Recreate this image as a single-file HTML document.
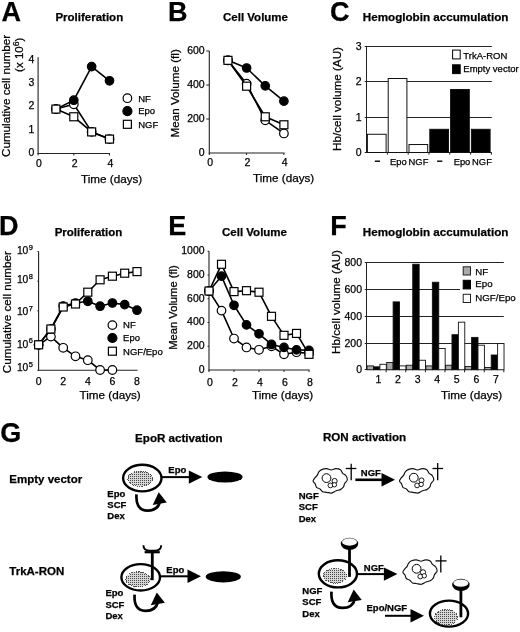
<!DOCTYPE html>
<html><head><meta charset="utf-8"><title>Figure</title>
<style>
html,body{margin:0;padding:0;background:#fff;}
body{width:520px;height:632px;overflow:hidden;font-family:"Liberation Sans",sans-serif;}
svg{display:block;filter:grayscale(1);}
svg text{font-family:"Liberation Sans",sans-serif;fill:#000;stroke:#000;stroke-width:0.25px;}
</style></head><body>
<svg width="520" height="632" viewBox="0 0 520 632">
<defs>
<pattern id="stip" width="2" height="2" patternUnits="userSpaceOnUse"><rect width="2" height="2" fill="#d6d6d6"/><rect x="0" y="0" width="1" height="1" fill="#4a4a4a"/></pattern>
</defs>
<rect width="520" height="632" fill="#fff"/>
<text x="1.50" y="20.70" font-size="27" font-weight="bold" text-anchor="start" >A</text>
<text x="168.00" y="20.90" font-size="27" font-weight="bold" text-anchor="start" >B</text>
<text x="330.00" y="20.90" font-size="27" font-weight="bold" text-anchor="start" >C</text>
<text x="-1.00" y="234.60" font-size="27" font-weight="bold" text-anchor="start" >D</text>
<text x="168.30" y="235.00" font-size="27" font-weight="bold" text-anchor="start" >E</text>
<text x="330.30" y="235.00" font-size="27" font-weight="bold" text-anchor="start" >F</text>
<text x="0.30" y="441.80" font-size="27" font-weight="bold" text-anchor="start" >G</text>
<text x="89.30" y="21.20" font-size="11.5" font-weight="bold" text-anchor="middle" >Proliferation</text>
<text x="255.50" y="21.20" font-size="11.5" font-weight="bold" text-anchor="middle" >Cell Volume</text>
<text x="435.60" y="21.20" font-size="11.65" font-weight="bold" text-anchor="middle" >Hemoglobin accumulation</text>
<text x="88.50" y="235.80" font-size="11.5" font-weight="bold" text-anchor="middle" >Proliferation</text>
<text x="254.50" y="235.60" font-size="11.5" font-weight="bold" text-anchor="middle" >Cell Volume</text>
<text x="435.60" y="235.60" font-size="11.65" font-weight="bold" text-anchor="middle" >Hemoglobin accumulation</text>
<line x1="38.10" y1="57.20" x2="38.10" y2="154.00" stroke="#222" stroke-width="1.1" />
<line x1="37.60" y1="153.50" x2="110.00" y2="153.50" stroke="#222" stroke-width="1.1" />
<text x="34.30" y="155.80" font-size="10.5" text-anchor="end" >0</text>
<text x="34.30" y="132.50" font-size="10.5" text-anchor="end" >1</text>
<text x="34.30" y="109.20" font-size="10.5" text-anchor="end" >2</text>
<text x="34.30" y="85.90" font-size="10.5" text-anchor="end" >3</text>
<text x="34.30" y="62.60" font-size="10.5" text-anchor="end" >4</text>
<line x1="38.10" y1="153.50" x2="38.10" y2="155.50" stroke="#222" stroke-width="1" />
<text x="38.90" y="166.80" font-size="10.5" text-anchor="middle" >0</text>
<line x1="73.80" y1="153.50" x2="73.80" y2="155.50" stroke="#222" stroke-width="1" />
<text x="74.60" y="166.80" font-size="10.5" text-anchor="middle" >2</text>
<line x1="109.50" y1="153.50" x2="109.50" y2="155.50" stroke="#222" stroke-width="1" />
<text x="110.30" y="166.80" font-size="10.5" text-anchor="middle" >4</text>
<text x="81.00" y="182.60" font-size="11.7" text-anchor="start" >Time (days)</text>
<text transform="translate(9.90,96.00) rotate(-90)" font-size="11.7" text-anchor="middle">Cumulative cell number</text>
<text transform="translate(23,54.8) rotate(-90)" font-size="11.5" text-anchor="middle">(x 10<tspan dy="-4" font-size="8.6">6</tspan><tspan dy="4">)</tspan></text>
<polyline points="55.95,109.10 73.80,104.30 91.65,131.90 109.50,139.10" fill="none" stroke="#000" stroke-width="1.6" stroke-linejoin="round"/>
<circle cx="55.95" cy="109.10" r="4.3" fill="#fff" stroke="#000" stroke-width="1.2"/>
<circle cx="73.80" cy="104.30" r="4.3" fill="#fff" stroke="#000" stroke-width="1.2"/>
<circle cx="91.65" cy="131.90" r="4.3" fill="#fff" stroke="#000" stroke-width="1.2"/>
<circle cx="109.50" cy="139.10" r="4.3" fill="#fff" stroke="#000" stroke-width="1.2"/>
<polyline points="55.95,109.10 73.80,100.22 91.65,66.62 109.50,80.78" fill="none" stroke="#000" stroke-width="1.6" stroke-linejoin="round"/>
<circle cx="55.95" cy="109.10" r="4.25" fill="#000" stroke="#000" stroke-width="1.2"/>
<circle cx="73.80" cy="100.22" r="4.25" fill="#000" stroke="#000" stroke-width="1.2"/>
<circle cx="91.65" cy="66.62" r="4.25" fill="#000" stroke="#000" stroke-width="1.2"/>
<circle cx="109.50" cy="80.78" r="4.25" fill="#000" stroke="#000" stroke-width="1.2"/>
<polyline points="55.95,109.10 73.80,116.78 91.65,131.90 109.50,139.10" fill="none" stroke="#000" stroke-width="1.6" stroke-linejoin="round"/>
<rect x="51.95" y="105.10" width="8" height="8" fill="#fff" stroke="#000" stroke-width="1.2"/>
<rect x="69.80" y="112.78" width="8" height="8" fill="#fff" stroke="#000" stroke-width="1.2"/>
<rect x="87.65" y="127.90" width="8" height="8" fill="#fff" stroke="#000" stroke-width="1.2"/>
<rect x="105.50" y="135.10" width="8" height="8" fill="#fff" stroke="#000" stroke-width="1.2"/>
<circle cx="127.40" cy="98.20" r="4.3" fill="#fff" stroke="#000" stroke-width="1.2"/>
<circle cx="127.40" cy="111.20" r="4.5" fill="#000" stroke="#000" stroke-width="1.2"/>
<rect x="123.40" y="120.30" width="8" height="8" fill="#fff" stroke="#000" stroke-width="1.2"/>
<text x="138.20" y="101.50" font-size="9.5" text-anchor="start" >NF</text>
<text x="138.20" y="114.40" font-size="9.5" text-anchor="start" >Epo</text>
<text x="138.20" y="127.60" font-size="9.5" text-anchor="start" >NGF</text>
<line x1="209.30" y1="51.00" x2="209.30" y2="153.50" stroke="#222" stroke-width="1.1" />
<line x1="208.80" y1="153.00" x2="284.50" y2="153.00" stroke="#222" stroke-width="1.1" />
<text x="204.70" y="156.40" font-size="10.5" text-anchor="end" >0</text>
<line x1="206.30" y1="119.00" x2="209.30" y2="119.00" stroke="#222" stroke-width="1" />
<text x="204.70" y="122.40" font-size="10.5" text-anchor="end" >200</text>
<line x1="206.30" y1="85.00" x2="209.30" y2="85.00" stroke="#222" stroke-width="1" />
<text x="204.70" y="88.40" font-size="10.5" text-anchor="end" >400</text>
<line x1="206.30" y1="51.00" x2="209.30" y2="51.00" stroke="#222" stroke-width="1" />
<text x="204.70" y="54.40" font-size="10.5" text-anchor="end" >600</text>
<line x1="209.30" y1="153.00" x2="209.30" y2="155.00" stroke="#222" stroke-width="1" />
<text x="210.10" y="166.30" font-size="10.5" text-anchor="middle" >0</text>
<line x1="246.60" y1="153.00" x2="246.60" y2="155.00" stroke="#222" stroke-width="1" />
<text x="247.40" y="166.30" font-size="10.5" text-anchor="middle" >2</text>
<line x1="283.90" y1="153.00" x2="283.90" y2="155.00" stroke="#222" stroke-width="1" />
<text x="284.70" y="166.30" font-size="10.5" text-anchor="middle" >4</text>
<text x="253.00" y="182.30" font-size="11.7" text-anchor="start" >Time (days)</text>
<text transform="translate(178.70,93.40) rotate(-90)" font-size="11.7" text-anchor="middle">Mean Volume (fl)</text>
<polyline points="227.95,60.35 246.60,68.00 265.25,85.85 283.90,101.15" fill="none" stroke="#000" stroke-width="1.6" stroke-linejoin="round"/>
<circle cx="227.95" cy="60.35" r="4.25" fill="#000" stroke="#000" stroke-width="1.2"/>
<circle cx="246.60" cy="68.00" r="4.25" fill="#000" stroke="#000" stroke-width="1.2"/>
<circle cx="265.25" cy="85.85" r="4.25" fill="#000" stroke="#000" stroke-width="1.2"/>
<circle cx="283.90" cy="101.15" r="4.25" fill="#000" stroke="#000" stroke-width="1.2"/>
<polyline points="227.95,60.35 246.60,83.64 265.25,120.36 283.90,133.45" fill="none" stroke="#000" stroke-width="1.6" stroke-linejoin="round"/>
<circle cx="227.95" cy="60.35" r="4.3" fill="#fff" stroke="#000" stroke-width="1.2"/>
<circle cx="246.60" cy="83.64" r="4.3" fill="#fff" stroke="#000" stroke-width="1.2"/>
<circle cx="265.25" cy="120.36" r="4.3" fill="#fff" stroke="#000" stroke-width="1.2"/>
<circle cx="283.90" cy="133.45" r="4.3" fill="#fff" stroke="#000" stroke-width="1.2"/>
<polyline points="227.95,60.35 246.60,86.19 265.25,116.79 283.90,124.78" fill="none" stroke="#000" stroke-width="1.6" stroke-linejoin="round"/>
<rect x="223.95" y="56.35" width="8" height="8" fill="#fff" stroke="#000" stroke-width="1.2"/>
<rect x="242.60" y="82.19" width="8" height="8" fill="#fff" stroke="#000" stroke-width="1.2"/>
<rect x="261.25" y="112.79" width="8" height="8" fill="#fff" stroke="#000" stroke-width="1.2"/>
<rect x="279.90" y="120.78" width="8" height="8" fill="#fff" stroke="#000" stroke-width="1.2"/>
<line x1="366.50" y1="46.00" x2="366.50" y2="153.00" stroke="#222" stroke-width="1" />
<line x1="364.70" y1="152.50" x2="491.80" y2="152.50" stroke="#222" stroke-width="1" />
<text x="361.60" y="156.20" font-size="10.5" text-anchor="end" >0</text>
<line x1="364.70" y1="117.50" x2="491.80" y2="117.50" stroke="#222" stroke-width="1" />
<text x="361.60" y="121.20" font-size="10.5" text-anchor="end" >1</text>
<line x1="364.70" y1="81.50" x2="491.80" y2="81.50" stroke="#222" stroke-width="1" />
<text x="361.60" y="85.20" font-size="10.5" text-anchor="end" >2</text>
<line x1="364.70" y1="46.50" x2="491.80" y2="46.50" stroke="#222" stroke-width="1" />
<text x="361.60" y="50.20" font-size="10.5" text-anchor="end" >3</text>
<rect x="367.40" y="134.27" width="18.7" height="18.23" fill="#fff" stroke="#111" stroke-width="1"/>
<rect x="388.20" y="78.51" width="18.7" height="73.99" fill="#fff" stroke="#111" stroke-width="1"/>
<rect x="409.00" y="144.53" width="18.7" height="7.96" fill="#fff" stroke="#111" stroke-width="1"/>
<rect x="429.80" y="129.31" width="18.7" height="23.19" fill="#000" stroke="#111" stroke-width="1"/>
<rect x="450.60" y="89.49" width="18.7" height="63.01" fill="#000" stroke="#111" stroke-width="1"/>
<rect x="471.40" y="129.31" width="18.7" height="23.19" fill="#000" stroke="#111" stroke-width="1"/>
<line x1="387.40" y1="152.50" x2="387.40" y2="154.70" stroke="#222" stroke-width="1" />
<line x1="408.20" y1="152.50" x2="408.20" y2="154.70" stroke="#222" stroke-width="1" />
<line x1="429.00" y1="152.50" x2="429.00" y2="154.70" stroke="#222" stroke-width="1" />
<line x1="449.80" y1="152.50" x2="449.80" y2="154.70" stroke="#222" stroke-width="1" />
<line x1="470.60" y1="152.50" x2="470.60" y2="154.70" stroke="#222" stroke-width="1" />
<line x1="491.40" y1="152.50" x2="491.40" y2="154.70" stroke="#222" stroke-width="1" />
<line x1="374.80" y1="161.20" x2="380.00" y2="161.20" stroke="#000" stroke-width="1.4" />
<text x="398.30" y="164.60" font-size="9.4" text-anchor="middle" >Epo</text>
<text x="418.50" y="164.60" font-size="9.4" text-anchor="middle" >NGF</text>
<line x1="437.10" y1="161.20" x2="442.30" y2="161.20" stroke="#000" stroke-width="1.4" />
<text x="462.00" y="164.60" font-size="9.4" text-anchor="middle" >Epo</text>
<text x="482.00" y="164.60" font-size="9.4" text-anchor="middle" >NGF</text>
<text transform="translate(340.60,99.00) rotate(-90)" font-size="11.7" text-anchor="middle">Hb/cell volume (AU)</text>
<rect x="452.6" y="50.1" width="7.6" height="8.8" fill="#fff" stroke="#000" stroke-width="1"/>
<rect x="452.6" y="64.8" width="7.6" height="8.8" fill="#000" stroke="#000" stroke-width="1"/>
<text x="463.30" y="58.50" font-size="9.5" text-anchor="start" >TrkA-RON</text>
<text x="463.30" y="71.60" font-size="9.5" text-anchor="start" >Empty vector</text>
<line x1="38.60" y1="251.40" x2="38.60" y2="370.80" stroke="#222" stroke-width="1.1" />
<line x1="38.10" y1="370.30" x2="137.50" y2="370.30" stroke="#222" stroke-width="1.1" />
<line x1="37.40" y1="251.50" x2="38.60" y2="251.50" stroke="#222" stroke-width="1" />
<text x="16.9" y="254.40" font-size="10.3">10<tspan dy="-4.3" dx="0.3" font-size="7.5">9</tspan></text>
<line x1="37.40" y1="281.20" x2="38.60" y2="281.20" stroke="#222" stroke-width="1" />
<text x="16.9" y="283.30" font-size="10.3">10<tspan dy="-4.3" dx="0.3" font-size="7.5">8</tspan></text>
<line x1="37.40" y1="310.90" x2="38.60" y2="310.90" stroke="#222" stroke-width="1" />
<text x="16.9" y="315.20" font-size="10.3">10<tspan dy="-4.3" dx="0.3" font-size="7.5">7</tspan></text>
<line x1="37.40" y1="340.60" x2="38.60" y2="340.60" stroke="#222" stroke-width="1" />
<text x="16.9" y="347.70" font-size="10.3">10<tspan dy="-4.3" dx="0.3" font-size="7.5">6</tspan></text>
<line x1="37.40" y1="370.30" x2="38.60" y2="370.30" stroke="#222" stroke-width="1" />
<text x="16.9" y="371.30" font-size="10.3">10<tspan dy="-4.3" dx="0.3" font-size="7.5">5</tspan></text>
<text x="38.60" y="385.40" font-size="10.5" text-anchor="middle" >0</text>
<text x="63.20" y="385.40" font-size="10.5" text-anchor="middle" >2</text>
<text x="87.80" y="385.40" font-size="10.5" text-anchor="middle" >4</text>
<text x="112.40" y="385.40" font-size="10.5" text-anchor="middle" >6</text>
<text x="137.00" y="385.40" font-size="10.5" text-anchor="middle" >8</text>
<text x="79.50" y="398.50" font-size="11.7" text-anchor="start" >Time (days)</text>
<text transform="translate(10.60,312.20) rotate(-90)" font-size="11.7" text-anchor="middle">Cumulative cell number</text>
<polyline points="38.60,344.80 50.90,336.60 63.20,347.80 75.50,356.30 87.80,360.20 100.10,370.00 112.40,370.00" fill="none" stroke="#000" stroke-width="1.6" stroke-linejoin="round"/>
<circle cx="38.60" cy="344.80" r="4.3" fill="#fff" stroke="#000" stroke-width="1.2"/>
<circle cx="50.90" cy="336.60" r="4.3" fill="#fff" stroke="#000" stroke-width="1.2"/>
<circle cx="63.20" cy="347.80" r="4.3" fill="#fff" stroke="#000" stroke-width="1.2"/>
<circle cx="75.50" cy="356.30" r="4.3" fill="#fff" stroke="#000" stroke-width="1.2"/>
<circle cx="87.80" cy="360.20" r="4.3" fill="#fff" stroke="#000" stroke-width="1.2"/>
<circle cx="100.10" cy="370.00" r="4.3" fill="#fff" stroke="#000" stroke-width="1.2"/>
<circle cx="112.40" cy="370.00" r="4.3" fill="#fff" stroke="#000" stroke-width="1.2"/>
<polyline points="38.60,344.80 50.90,329.00 63.20,306.00 75.50,303.00 87.80,301.30 100.10,306.20 112.40,303.00 124.70,304.60 137.00,310.20" fill="none" stroke="#000" stroke-width="1.6" stroke-linejoin="round"/>
<circle cx="38.60" cy="344.80" r="4.25" fill="#000" stroke="#000" stroke-width="1.2"/>
<circle cx="50.90" cy="329.00" r="4.25" fill="#000" stroke="#000" stroke-width="1.2"/>
<circle cx="63.20" cy="306.00" r="4.25" fill="#000" stroke="#000" stroke-width="1.2"/>
<circle cx="75.50" cy="303.00" r="4.25" fill="#000" stroke="#000" stroke-width="1.2"/>
<circle cx="87.80" cy="301.30" r="4.25" fill="#000" stroke="#000" stroke-width="1.2"/>
<circle cx="100.10" cy="306.20" r="4.25" fill="#000" stroke="#000" stroke-width="1.2"/>
<circle cx="112.40" cy="303.00" r="4.25" fill="#000" stroke="#000" stroke-width="1.2"/>
<circle cx="124.70" cy="304.60" r="4.25" fill="#000" stroke="#000" stroke-width="1.2"/>
<circle cx="137.00" cy="310.20" r="4.25" fill="#000" stroke="#000" stroke-width="1.2"/>
<polyline points="38.60,344.80 50.90,329.00 63.20,307.00 75.50,304.00 87.80,292.20 100.10,279.80 112.40,276.20 124.70,273.20 137.00,271.60" fill="none" stroke="#000" stroke-width="1.6" stroke-linejoin="round"/>
<rect x="34.60" y="340.80" width="8" height="8" fill="#fff" stroke="#000" stroke-width="1.2"/>
<rect x="46.90" y="325.00" width="8" height="8" fill="#fff" stroke="#000" stroke-width="1.2"/>
<rect x="59.20" y="303.00" width="8" height="8" fill="#fff" stroke="#000" stroke-width="1.2"/>
<rect x="71.50" y="300.00" width="8" height="8" fill="#fff" stroke="#000" stroke-width="1.2"/>
<rect x="83.80" y="288.20" width="8" height="8" fill="#fff" stroke="#000" stroke-width="1.2"/>
<rect x="96.10" y="275.80" width="8" height="8" fill="#fff" stroke="#000" stroke-width="1.2"/>
<rect x="108.40" y="272.20" width="8" height="8" fill="#fff" stroke="#000" stroke-width="1.2"/>
<rect x="120.70" y="269.20" width="8" height="8" fill="#fff" stroke="#000" stroke-width="1.2"/>
<rect x="133.00" y="267.60" width="8" height="8" fill="#fff" stroke="#000" stroke-width="1.2"/>
<circle cx="112.40" cy="325.10" r="4.3" fill="#fff" stroke="#000" stroke-width="1.2"/>
<circle cx="112.40" cy="338.00" r="4.5" fill="#000" stroke="#000" stroke-width="1.2"/>
<rect x="108.40" y="347.20" width="8" height="8" fill="#fff" stroke="#000" stroke-width="1.2"/>
<text x="123.10" y="328.40" font-size="9.5" text-anchor="start" >NF</text>
<text x="123.10" y="341.20" font-size="9.5" text-anchor="start" >Epo</text>
<text x="123.10" y="354.50" font-size="9.5" text-anchor="start" >NGF/Epo</text>
<line x1="209.00" y1="251.30" x2="209.00" y2="370.50" stroke="#222" stroke-width="1.1" />
<line x1="208.50" y1="370.00" x2="309.40" y2="370.00" stroke="#222" stroke-width="1.1" />
<text x="204.60" y="372.80" font-size="10.5" text-anchor="end" >0</text>
<line x1="207.50" y1="346.25" x2="209.00" y2="346.25" stroke="#222" stroke-width="1" />
<text x="204.60" y="349.05" font-size="10.5" text-anchor="end" >200</text>
<line x1="207.50" y1="322.50" x2="209.00" y2="322.50" stroke="#222" stroke-width="1" />
<text x="204.60" y="325.30" font-size="10.5" text-anchor="end" >400</text>
<line x1="207.50" y1="298.75" x2="209.00" y2="298.75" stroke="#222" stroke-width="1" />
<text x="204.60" y="301.55" font-size="10.5" text-anchor="end" >600</text>
<line x1="207.50" y1="275.00" x2="209.00" y2="275.00" stroke="#222" stroke-width="1" />
<text x="204.60" y="277.80" font-size="10.5" text-anchor="end" >800</text>
<line x1="207.50" y1="251.25" x2="209.00" y2="251.25" stroke="#222" stroke-width="1" />
<text x="204.60" y="254.05" font-size="10.5" text-anchor="end" >1000</text>
<line x1="209.00" y1="370.00" x2="209.00" y2="372.00" stroke="#222" stroke-width="1" />
<text x="209.80" y="386.00" font-size="10.5" text-anchor="middle" >0</text>
<line x1="234.00" y1="370.00" x2="234.00" y2="372.00" stroke="#222" stroke-width="1" />
<text x="234.80" y="386.00" font-size="10.5" text-anchor="middle" >2</text>
<line x1="259.00" y1="370.00" x2="259.00" y2="372.00" stroke="#222" stroke-width="1" />
<text x="259.80" y="386.00" font-size="10.5" text-anchor="middle" >4</text>
<line x1="284.00" y1="370.00" x2="284.00" y2="372.00" stroke="#222" stroke-width="1" />
<text x="284.80" y="386.00" font-size="10.5" text-anchor="middle" >6</text>
<line x1="309.00" y1="370.00" x2="309.00" y2="372.00" stroke="#222" stroke-width="1" />
<text x="309.80" y="386.00" font-size="10.5" text-anchor="middle" >8</text>
<text x="252.00" y="399.30" font-size="11.7" text-anchor="start" >Time (days)</text>
<text transform="translate(177.00,307.50) rotate(-90)" font-size="11.2" text-anchor="middle">Mean Volume (fl)</text>
<polyline points="209.00,291.03 221.50,310.62 234.00,338.53 246.50,347.44 259.00,349.81 271.50,346.25 284.00,354.32 296.50,352.19 309.00,353.38" fill="none" stroke="#000" stroke-width="1.6" stroke-linejoin="round"/>
<circle cx="209.00" cy="291.03" r="4.3" fill="#fff" stroke="#000" stroke-width="1.2"/>
<circle cx="221.50" cy="310.62" r="4.3" fill="#fff" stroke="#000" stroke-width="1.2"/>
<circle cx="234.00" cy="338.53" r="4.3" fill="#fff" stroke="#000" stroke-width="1.2"/>
<circle cx="246.50" cy="347.44" r="4.3" fill="#fff" stroke="#000" stroke-width="1.2"/>
<circle cx="259.00" cy="349.81" r="4.3" fill="#fff" stroke="#000" stroke-width="1.2"/>
<circle cx="271.50" cy="346.25" r="4.3" fill="#fff" stroke="#000" stroke-width="1.2"/>
<circle cx="284.00" cy="354.32" r="4.3" fill="#fff" stroke="#000" stroke-width="1.2"/>
<circle cx="296.50" cy="352.19" r="4.3" fill="#fff" stroke="#000" stroke-width="1.2"/>
<circle cx="309.00" cy="353.38" r="4.3" fill="#fff" stroke="#000" stroke-width="1.2"/>
<polyline points="209.00,291.03 221.50,276.19 234.00,305.28 246.50,324.88 259.00,333.78 271.50,344.47 284.00,347.44 296.50,349.81 309.00,350.41" fill="none" stroke="#000" stroke-width="1.6" stroke-linejoin="round"/>
<circle cx="209.00" cy="291.03" r="4.25" fill="#000" stroke="#000" stroke-width="1.2"/>
<circle cx="221.50" cy="276.19" r="4.25" fill="#000" stroke="#000" stroke-width="1.2"/>
<circle cx="234.00" cy="305.28" r="4.25" fill="#000" stroke="#000" stroke-width="1.2"/>
<circle cx="246.50" cy="324.88" r="4.25" fill="#000" stroke="#000" stroke-width="1.2"/>
<circle cx="259.00" cy="333.78" r="4.25" fill="#000" stroke="#000" stroke-width="1.2"/>
<circle cx="271.50" cy="344.47" r="4.25" fill="#000" stroke="#000" stroke-width="1.2"/>
<circle cx="284.00" cy="347.44" r="4.25" fill="#000" stroke="#000" stroke-width="1.2"/>
<circle cx="296.50" cy="349.81" r="4.25" fill="#000" stroke="#000" stroke-width="1.2"/>
<circle cx="309.00" cy="350.41" r="4.25" fill="#000" stroke="#000" stroke-width="1.2"/>
<polyline points="209.00,291.03 221.50,264.31 234.00,291.62 246.50,290.68 259.00,292.22 271.50,316.32 284.00,335.32 296.50,333.43 309.00,354.32" fill="none" stroke="#000" stroke-width="1.6" stroke-linejoin="round"/>
<rect x="205.00" y="287.03" width="8" height="8" fill="#fff" stroke="#000" stroke-width="1.2"/>
<rect x="217.50" y="260.31" width="8" height="8" fill="#fff" stroke="#000" stroke-width="1.2"/>
<rect x="230.00" y="287.62" width="8" height="8" fill="#fff" stroke="#000" stroke-width="1.2"/>
<rect x="242.50" y="286.68" width="8" height="8" fill="#fff" stroke="#000" stroke-width="1.2"/>
<rect x="255.00" y="288.22" width="8" height="8" fill="#fff" stroke="#000" stroke-width="1.2"/>
<rect x="267.50" y="312.32" width="8" height="8" fill="#fff" stroke="#000" stroke-width="1.2"/>
<rect x="280.00" y="331.32" width="8" height="8" fill="#fff" stroke="#000" stroke-width="1.2"/>
<rect x="292.50" y="329.43" width="8" height="8" fill="#fff" stroke="#000" stroke-width="1.2"/>
<rect x="305.00" y="350.32" width="8" height="8" fill="#fff" stroke="#000" stroke-width="1.2"/>
<line x1="366.50" y1="262.00" x2="366.50" y2="370.00" stroke="#222" stroke-width="1" />
<line x1="364.70" y1="369.50" x2="503.80" y2="369.50" stroke="#222" stroke-width="1" />
<text x="362.00" y="373.20" font-size="10.5" text-anchor="end" >0</text>
<line x1="364.70" y1="343.50" x2="503.80" y2="343.50" stroke="#222" stroke-width="1" />
<text x="362.00" y="347.20" font-size="10.5" text-anchor="end" >200</text>
<line x1="364.70" y1="316.50" x2="503.80" y2="316.50" stroke="#222" stroke-width="1" />
<text x="362.00" y="320.20" font-size="10.5" text-anchor="end" >400</text>
<line x1="364.70" y1="289.50" x2="460.00" y2="289.50" stroke="#222" stroke-width="1" />
<text x="362.00" y="293.20" font-size="10.5" text-anchor="end" >600</text>
<line x1="364.70" y1="262.50" x2="503.80" y2="262.50" stroke="#222" stroke-width="1" />
<text x="362.00" y="266.20" font-size="10.5" text-anchor="end" >800</text>
<line x1="386.12" y1="369.80" x2="386.12" y2="372.30" stroke="#222" stroke-width="1" />
<rect x="367.10" y="365.90" width="6.4" height="3.90" fill="#aaa" stroke="#111" stroke-width="0.9"/>
<rect x="373.50" y="366.84" width="6.4" height="2.96" fill="#000" stroke="#111" stroke-width="0.9"/>
<rect x="379.90" y="364.29" width="6.4" height="5.51" fill="#fff" stroke="#111" stroke-width="0.9"/>
<text x="378.31" y="383.10" font-size="10.5" text-anchor="middle" >1</text>
<line x1="405.74" y1="369.80" x2="405.74" y2="372.30" stroke="#222" stroke-width="1" />
<rect x="386.72" y="362.54" width="6.4" height="7.26" fill="#aaa" stroke="#111" stroke-width="0.9"/>
<rect x="393.12" y="301.88" width="6.4" height="67.92" fill="#000" stroke="#111" stroke-width="0.9"/>
<rect x="399.52" y="365.90" width="6.4" height="3.90" fill="#fff" stroke="#111" stroke-width="0.9"/>
<text x="397.93" y="383.10" font-size="10.5" text-anchor="middle" >2</text>
<line x1="425.36" y1="369.80" x2="425.36" y2="372.30" stroke="#222" stroke-width="1" />
<rect x="406.34" y="365.23" width="6.4" height="4.57" fill="#aaa" stroke="#111" stroke-width="0.9"/>
<rect x="412.74" y="264.22" width="6.4" height="105.58" fill="#000" stroke="#111" stroke-width="0.9"/>
<rect x="419.14" y="360.25" width="6.4" height="9.55" fill="#fff" stroke="#111" stroke-width="0.9"/>
<text x="417.55" y="383.10" font-size="10.5" text-anchor="middle" >3</text>
<line x1="444.98" y1="369.80" x2="444.98" y2="372.30" stroke="#222" stroke-width="1" />
<rect x="425.96" y="365.90" width="6.4" height="3.90" fill="#aaa" stroke="#111" stroke-width="0.9"/>
<rect x="432.36" y="282.24" width="6.4" height="87.56" fill="#000" stroke="#111" stroke-width="0.9"/>
<rect x="438.76" y="348.55" width="6.4" height="21.25" fill="#fff" stroke="#111" stroke-width="0.9"/>
<text x="437.17" y="383.10" font-size="10.5" text-anchor="middle" >4</text>
<line x1="464.60" y1="369.80" x2="464.60" y2="372.30" stroke="#222" stroke-width="1" />
<rect x="445.58" y="365.23" width="6.4" height="4.57" fill="#aaa" stroke="#111" stroke-width="0.9"/>
<rect x="451.98" y="334.70" width="6.4" height="35.10" fill="#000" stroke="#111" stroke-width="0.9"/>
<rect x="458.38" y="322.19" width="6.4" height="47.61" fill="#fff" stroke="#111" stroke-width="0.9"/>
<text x="456.79" y="383.10" font-size="10.5" text-anchor="middle" >5</text>
<line x1="484.22" y1="369.80" x2="484.22" y2="372.30" stroke="#222" stroke-width="1" />
<rect x="465.20" y="366.57" width="6.4" height="3.23" fill="#aaa" stroke="#111" stroke-width="0.9"/>
<rect x="471.60" y="337.39" width="6.4" height="32.41" fill="#000" stroke="#111" stroke-width="0.9"/>
<rect x="478.00" y="345.19" width="6.4" height="24.61" fill="#fff" stroke="#111" stroke-width="0.9"/>
<text x="476.41" y="383.10" font-size="10.5" text-anchor="middle" >6</text>
<line x1="503.84" y1="369.80" x2="503.84" y2="372.30" stroke="#222" stroke-width="1" />
<rect x="484.82" y="367.51" width="6.4" height="2.29" fill="#aaa" stroke="#111" stroke-width="0.9"/>
<rect x="491.22" y="355.00" width="6.4" height="14.79" fill="#000" stroke="#111" stroke-width="0.9"/>
<rect x="497.62" y="343.57" width="6.4" height="26.23" fill="#fff" stroke="#111" stroke-width="0.9"/>
<text x="496.03" y="383.10" font-size="10.5" text-anchor="middle" >7</text>
<text x="441.00" y="399.30" font-size="11.7" text-anchor="start" >Time (days)</text>
<text transform="translate(339.60,302.00) rotate(-90)" font-size="11.7" text-anchor="middle">Hb/cell volume (AU)</text>
<rect x="463.2" y="266.8" width="7.3" height="8.2" fill="#aaa" stroke="#222" stroke-width="1"/>
<rect x="463.2" y="280.3" width="7.3" height="8.6" fill="#000" stroke="#000" stroke-width="1"/>
<rect x="463.2" y="294.3" width="7.3" height="8.2" fill="#fff" stroke="#222" stroke-width="1"/>
<text x="475.30" y="274.80" font-size="9.7" text-anchor="start" >NF</text>
<text x="475.30" y="287.00" font-size="9.7" text-anchor="start" >Epo</text>
<text x="475.30" y="300.60" font-size="9.7" text-anchor="start" >NGF/Epo</text>
<text x="178.90" y="441.80" font-size="11.6" font-weight="bold" text-anchor="middle" >EpoR activation</text>
<text x="364.50" y="441.10" font-size="11.6" font-weight="bold" text-anchor="middle" >RON activation</text>
<text x="9.30" y="483.00" font-size="11.5" font-weight="bold" text-anchor="start" >Empty vector</text>
<text x="9.30" y="574.80" font-size="11.5" font-weight="bold" text-anchor="start" >TrkA-RON</text>
<ellipse cx="142.3" cy="478.1" rx="19.2" ry="13.3" fill="#fff" stroke="#000" stroke-width="2.4"/>
<ellipse cx="140.2" cy="478.7" rx="12.3" ry="7.7" fill="url(#stip)" stroke="#444" stroke-width="0.9" stroke-dasharray="1 0.8" shape-rendering="crispEdges"/>
<line x1="161.40" y1="477.10" x2="189.80" y2="477.10" stroke="#000" stroke-width="2.0" />
<polygon points="188.80,470.40 202.30,477.10 188.80,483.80" fill="#000"/>
<text x="168.30" y="473.30" font-size="9.5" font-weight="bold" text-anchor="start" >Epo</text>
<ellipse cx="225" cy="477" rx="17.6" ry="5.6" fill="#000"/>
<text x="107.30" y="496.90" font-size="9.5" font-weight="bold" text-anchor="start" >Epo</text>
<text x="107.30" y="507.90" font-size="9.5" font-weight="bold" text-anchor="start" >SCF</text>
<text x="107.30" y="519.00" font-size="9.5" font-weight="bold" text-anchor="start" >Dex</text>
<path d="M136.50,494.40 C135.90,502.90 138.00,510.60 147.50,510.60 C154.00,510.60 158.50,507.40 159.80,501.90" fill="none" stroke="#000" stroke-width="2.7" stroke-linecap="butt"/>
<polygon points="158.70,492.20 152.70,505.00 166.80,502.60" fill="#000"/>
<ellipse cx="140.7" cy="577.3" rx="19.3" ry="13.2" fill="#fff" stroke="#000" stroke-width="2.4"/>
<ellipse cx="137.9" cy="579.4" rx="12.2" ry="7.6" fill="url(#stip)" stroke="#444" stroke-width="0.9" stroke-dasharray="1 0.8" shape-rendering="crispEdges"/>
<line x1="152.30" y1="551.50" x2="152.30" y2="580.20" stroke="#000" stroke-width="2.8" />
<line x1="144.60" y1="552.20" x2="159.80" y2="552.20" stroke="#000" stroke-width="2.2" />
<path d="M143.4,545.3 C143.6,549.5 145.5,550.6 149,550.6 L155.5,550.6 C159,550.6 161,549.5 161.2,545.3" fill="none" stroke="#000" stroke-width="1.9"/>
<line x1="160.40" y1="576.30" x2="188.50" y2="576.30" stroke="#000" stroke-width="2.0" />
<polygon points="187.50,569.60 201.00,576.30 187.50,583.00" fill="#000"/>
<text x="166.30" y="573.10" font-size="9.5" font-weight="bold" text-anchor="start" >Epo</text>
<ellipse cx="223.3" cy="576.8" rx="17.6" ry="5.6" fill="#000"/>
<text x="105.40" y="596.20" font-size="9.5" font-weight="bold" text-anchor="start" >Epo</text>
<text x="105.40" y="607.70" font-size="9.5" font-weight="bold" text-anchor="start" >SCF</text>
<text x="105.40" y="619.20" font-size="9.5" font-weight="bold" text-anchor="start" >Dex</text>
<path d="M134.60,594.60 C134.00,603.10 136.10,610.80 145.60,610.80 C152.10,610.80 156.60,607.60 157.90,602.10" fill="none" stroke="#000" stroke-width="2.7" stroke-linecap="butt"/>
<polygon points="156.80,592.40 150.80,605.20 164.90,602.80" fill="#000"/>
<path d="M318.85,471.92 C319.58,470.99 320.45,470.16 321.73,469.62 C323.01,469.07 324.97,468.59 326.54,468.65 C328.11,468.72 329.62,470.00 331.15,470.00 C332.69,470.00 334.23,468.69 335.77,468.65 C337.31,468.62 339.23,469.04 340.38,469.81 C341.54,470.58 341.76,472.28 342.69,473.27 C343.62,474.26 345.19,474.65 345.96,475.77 C346.73,476.89 347.53,478.72 347.31,480.00 C347.08,481.28 345.26,482.31 344.62,483.46 C343.97,484.62 344.17,485.90 343.46,486.92 C342.76,487.95 341.60,488.97 340.38,489.62 C339.17,490.26 337.63,490.19 336.15,490.77 C334.68,491.35 333.14,492.82 331.54,493.08 C329.94,493.33 328.01,492.53 326.54,492.31 C325.06,492.08 323.78,492.28 322.69,491.73 C321.60,491.19 321.03,489.78 320.00,489.04 C318.97,488.30 317.34,488.17 316.54,487.31 C315.74,486.44 315.77,484.90 315.19,483.85 C314.62,482.79 313.11,481.99 313.08,480.96 C313.04,479.94 314.29,478.65 315.00,477.69 C315.71,476.73 316.67,476.15 317.31,475.19 C317.95,474.23 318.11,472.85 318.85,471.92Z" fill="#fff" stroke="#111" stroke-width="1.15"/>
<circle cx="326.50" cy="478.10" r="4.4" fill="#fff" stroke="#000" stroke-width="1.0"/>
<circle cx="334.60" cy="481.00" r="2.5999999999999996" fill="#fff" stroke="#000" stroke-width="0.9"/>
<circle cx="330.40" cy="485.40" r="2.4" fill="#fff" stroke="#000" stroke-width="0.9"/>
<circle cx="334.40" cy="484.80" r="2.1999999999999997" fill="#fff" stroke="#000" stroke-width="0.9"/>
<line x1="351.20" y1="463.70" x2="351.20" y2="480.20" stroke="#000" stroke-width="1.3" />
<line x1="345.80" y1="468.50" x2="356.30" y2="468.50" stroke="#000" stroke-width="1.3" />
<line x1="355.40" y1="479.80" x2="382.50" y2="479.80" stroke="#000" stroke-width="2.6" />
<polygon points="381.50,473.10 395.00,479.80 381.50,486.50" fill="#000"/>
<text x="360.80" y="475.80" font-size="9.5" font-weight="bold" text-anchor="start" >NGF</text>
<path d="M405.25,471.92 C405.98,470.99 406.85,470.16 408.13,469.62 C409.41,469.07 411.37,468.59 412.94,468.65 C414.51,468.72 416.02,470.00 417.55,470.00 C419.09,470.00 420.63,468.69 422.17,468.65 C423.71,468.62 425.63,469.04 426.78,469.81 C427.94,470.58 428.16,472.28 429.09,473.27 C430.02,474.26 431.59,474.65 432.36,475.77 C433.13,476.89 433.93,478.72 433.71,480.00 C433.48,481.28 431.66,482.31 431.02,483.46 C430.37,484.62 430.57,485.90 429.86,486.92 C429.16,487.95 428.00,488.97 426.78,489.62 C425.57,490.26 424.03,490.19 422.55,490.77 C421.08,491.35 419.54,492.82 417.94,493.08 C416.34,493.33 414.41,492.53 412.94,492.31 C411.46,492.08 410.18,492.28 409.09,491.73 C408.00,491.19 407.43,489.78 406.40,489.04 C405.37,488.30 403.74,488.17 402.94,487.31 C402.14,486.44 402.17,484.90 401.59,483.85 C401.02,482.79 399.51,481.99 399.48,480.96 C399.44,479.94 400.69,478.65 401.40,477.69 C402.11,476.73 403.07,476.15 403.71,475.19 C404.35,474.23 404.51,472.85 405.25,471.92Z" fill="#fff" stroke="#111" stroke-width="1.15"/>
<circle cx="413.80" cy="477.70" r="4.4" fill="#fff" stroke="#000" stroke-width="1.0"/>
<circle cx="421.50" cy="480.40" r="2.5" fill="#fff" stroke="#000" stroke-width="0.9"/>
<circle cx="417.10" cy="485.40" r="2.4" fill="#fff" stroke="#000" stroke-width="0.9"/>
<circle cx="421.20" cy="484.40" r="2.1999999999999997" fill="#fff" stroke="#000" stroke-width="0.9"/>
<line x1="437.70" y1="463.10" x2="437.70" y2="480.20" stroke="#000" stroke-width="1.3" />
<line x1="432.50" y1="468.50" x2="443.10" y2="468.50" stroke="#000" stroke-width="1.3" />
<text x="298.70" y="499.20" font-size="9.5" font-weight="bold" text-anchor="start" >NGF</text>
<text x="298.70" y="510.40" font-size="9.5" font-weight="bold" text-anchor="start" >SCF</text>
<text x="298.70" y="521.70" font-size="9.5" font-weight="bold" text-anchor="start" >Dex</text>
<ellipse cx="337.9" cy="573.8" rx="19.1" ry="13.6" fill="#fff" stroke="#000" stroke-width="2.4"/>
<ellipse cx="335.1" cy="575.8" rx="11.9" ry="7.4" fill="url(#stip)" stroke="#444" stroke-width="0.9" stroke-dasharray="1 0.8" shape-rendering="crispEdges"/>
<line x1="349.50" y1="546.00" x2="349.50" y2="576.90" stroke="#000" stroke-width="2.8" />
<ellipse cx="349.50" cy="543.85" rx="8.7" ry="6.2" fill="#000"/>
<ellipse cx="349.50" cy="542.00" rx="7.5" ry="3.7" fill="#fafafa"/>
<line x1="358.00" y1="574.10" x2="384.90" y2="574.10" stroke="#000" stroke-width="2.0" />
<polygon points="383.90,567.40 397.40,574.10 383.90,580.80" fill="#000"/>
<text x="363.80" y="570.60" font-size="9.5" font-weight="bold" text-anchor="start" >NGF</text>
<path d="M408.65,563.12 C409.38,562.19 410.25,561.36 411.53,560.82 C412.81,560.27 414.77,559.79 416.34,559.85 C417.91,559.92 419.42,561.20 420.95,561.20 C422.49,561.20 424.03,559.89 425.57,559.85 C427.11,559.82 429.03,560.24 430.18,561.01 C431.34,561.78 431.56,563.48 432.49,564.47 C433.42,565.46 434.99,565.85 435.76,566.97 C436.53,568.09 437.33,569.92 437.11,571.20 C436.88,572.48 435.06,573.51 434.42,574.66 C433.77,575.82 433.97,577.10 433.26,578.12 C432.56,579.15 431.40,580.17 430.18,580.82 C428.97,581.46 427.43,581.39 425.95,581.97 C424.48,582.55 422.94,584.02 421.34,584.28 C419.74,584.53 417.81,583.73 416.34,583.51 C414.86,583.28 413.58,583.48 412.49,582.93 C411.40,582.39 410.83,580.98 409.80,580.24 C408.77,579.50 407.14,579.37 406.34,578.51 C405.54,577.64 405.57,576.10 404.99,575.05 C404.42,573.99 402.91,573.19 402.88,572.16 C402.84,571.14 404.09,569.85 404.80,568.89 C405.51,567.93 406.47,567.35 407.11,566.39 C407.75,565.43 407.91,564.05 408.65,563.12Z" fill="#fff" stroke="#111" stroke-width="1.15"/>
<circle cx="416.60" cy="568.80" r="4.4" fill="#fff" stroke="#000" stroke-width="1.0"/>
<circle cx="423.00" cy="572.30" r="2.5999999999999996" fill="#fff" stroke="#000" stroke-width="0.9"/>
<circle cx="420.30" cy="576.50" r="2.4" fill="#fff" stroke="#000" stroke-width="0.9"/>
<circle cx="424.30" cy="575.80" r="2.1999999999999997" fill="#fff" stroke="#000" stroke-width="0.9"/>
<line x1="440.80" y1="555.50" x2="440.80" y2="572.60" stroke="#000" stroke-width="1.3" />
<line x1="435.50" y1="560.90" x2="446.60" y2="560.90" stroke="#000" stroke-width="1.3" />
<path d="M331.50,591.70 C330.90,600.20 333.00,607.90 342.50,607.90 C349.00,607.90 353.50,604.70 354.80,599.20" fill="none" stroke="#000" stroke-width="2.7" stroke-linecap="butt"/>
<polygon points="353.70,589.50 347.70,602.30 361.80,599.90" fill="#000"/>
<text x="302.30" y="593.70" font-size="9.5" font-weight="bold" text-anchor="start" >NGF</text>
<text x="302.30" y="605.20" font-size="9.5" font-weight="bold" text-anchor="start" >SCF</text>
<text x="302.30" y="616.70" font-size="9.5" font-weight="bold" text-anchor="start" >Dex</text>
<text x="366.50" y="611.00" font-size="9.5" font-weight="bold" text-anchor="start" >Epo/NGF</text>
<line x1="385.00" y1="615.80" x2="411.50" y2="615.80" stroke="#000" stroke-width="2.0" />
<polygon points="410.50,609.10 424.00,615.80 410.50,622.50" fill="#000"/>
<ellipse cx="449" cy="613.6" rx="19.1" ry="13.0" fill="#fff" stroke="#000" stroke-width="2.4"/>
<ellipse cx="446" cy="617.3" rx="11.5" ry="7.8" fill="url(#stip)" stroke="#444" stroke-width="0.9" stroke-dasharray="1 0.8" shape-rendering="crispEdges"/>
<line x1="460.90" y1="587.10" x2="460.90" y2="617.30" stroke="#000" stroke-width="2.8" />
<ellipse cx="460.90" cy="584.95" rx="8.7" ry="6.2" fill="#000"/>
<ellipse cx="460.90" cy="583.10" rx="7.5" ry="3.7" fill="#fafafa"/>
</svg>
</body></html>
